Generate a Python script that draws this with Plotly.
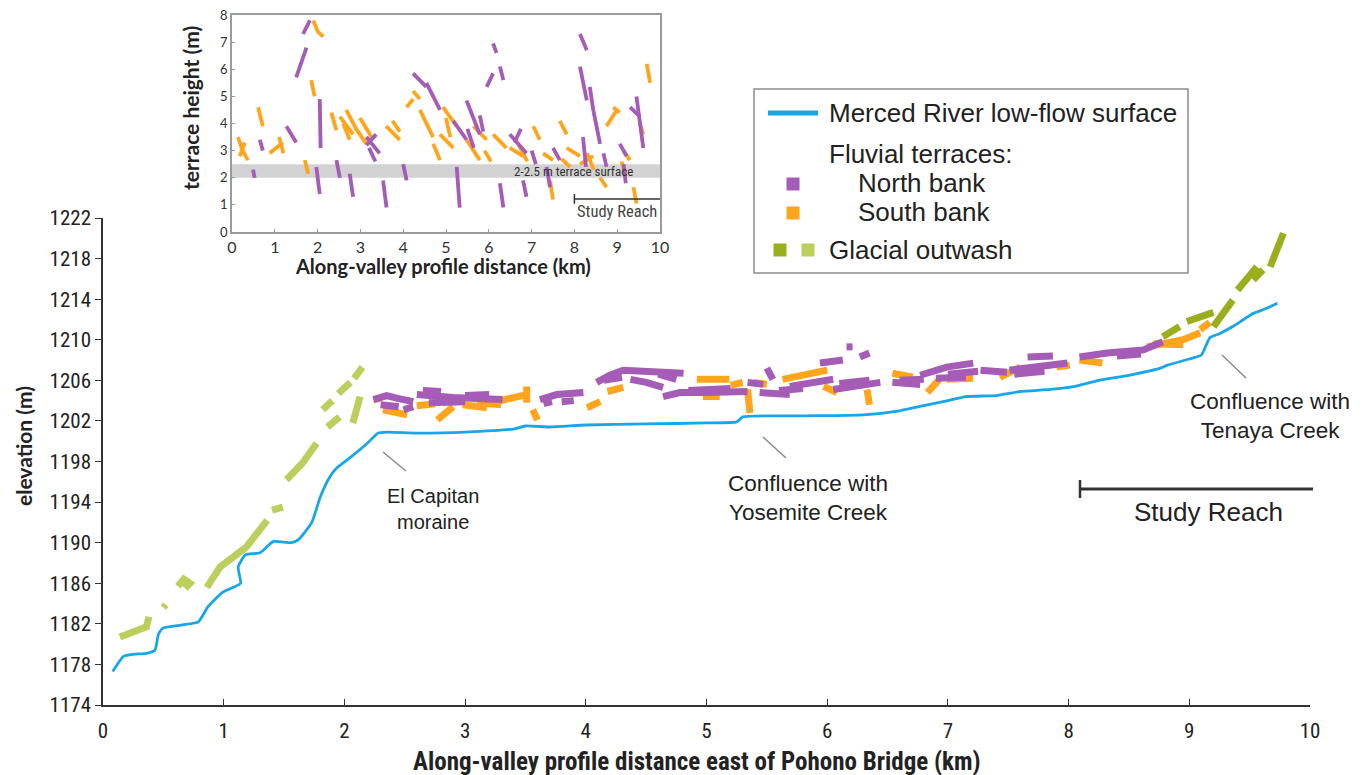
import plotly.graph_objects as go

# ---------------- data ----------------
river_km = [0.08, 0.17, 0.25, 0.36, 0.43, 0.46, 0.50, 0.66, 0.79, 0.87, 0.99, 1.08, 1.14, 1.12, 1.18,
            1.30, 1.41, 1.56, 1.62, 1.73, 1.80, 1.88, 1.94, 2.06, 2.19, 2.28, 2.36, 2.60, 3.00, 3.40,
            3.50, 3.70, 4.00, 4.50, 5.00, 5.25, 5.30, 5.80, 6.30, 6.60, 6.80, 7.00, 7.15, 7.40, 7.60,
            7.85, 8.05, 8.25, 8.50, 8.76, 8.82, 9.00, 9.10, 9.17, 9.25, 9.36, 9.45, 9.53, 9.62, 9.73]
river_elev = [1177.3, 1178.8, 1179.0, 1179.1, 1179.4, 1181.0, 1181.6, 1181.9, 1182.2, 1183.7, 1185.1,
              1185.6, 1186.0, 1187.6, 1188.8, 1189.0, 1190.1, 1190.0, 1190.3, 1192.0, 1194.5, 1196.5,
              1197.4, 1198.5, 1199.8, 1200.8, 1200.9, 1200.8, 1200.9, 1201.2, 1201.5, 1201.4, 1201.6,
              1201.7, 1201.8, 1201.9, 1202.4, 1202.5, 1202.6, 1203.0, 1203.5, 1204.0, 1204.4, 1204.5,
              1204.9, 1205.1, 1205.4, 1206.0, 1206.5, 1207.2, 1207.5, 1208.1, 1208.5, 1210.2, 1210.6,
              1211.3, 1212.0, 1212.6, 1213.0, 1213.6]

north_segments = [
    [(2.24, 1204.1), (2.35, 1204.5), (2.45, 1204.2), (2.57, 1203.9)],
    [(2.30, 1203.6), (2.45, 1203.4)],
    [(2.49, 1203.1), (2.57, 1203.4)],
    [(2.60, 1204.6), (2.75, 1204.4), (2.90, 1204.3), (3.10, 1204.2), (3.31, 1204.1)],
    [(2.65, 1205.0), (2.80, 1204.9)],
    [(2.70, 1203.8), (3.00, 1203.9)],
    [(3.00, 1204.5), (3.20, 1204.6)],
    [(3.62, 1204.1), (3.76, 1204.6), (3.98, 1204.8)],
    [(3.65, 1203.7), (3.72, 1203.9)],
    [(3.80, 1203.9), (3.90, 1204.0)],
    [(4.09, 1205.8), (4.20, 1206.5), (4.31, 1207.0), (4.55, 1206.9), (4.81, 1206.7)],
    [(4.15, 1206.0), (4.30, 1206.3)],
    [(4.37, 1206.1), (4.50, 1205.8), (4.64, 1205.3)],
    [(4.60, 1206.6), (4.75, 1206.1)],
    [(4.64, 1204.4), (4.78, 1204.8), (5.00, 1204.8), (5.34, 1204.9)],
    [(4.85, 1205.0), (5.20, 1205.2)],
    [(5.44, 1204.8), (5.69, 1204.6)],
    [(5.50, 1207.2), (5.55, 1206.1)],
    [(5.34, 1205.8), (5.47, 1205.6)],
    [(5.60, 1205.0), (5.80, 1205.2)],
    [(5.69, 1205.4), (5.90, 1205.8), (6.05, 1206.1)],
    [(6.05, 1205.1), (6.25, 1205.5), (6.44, 1205.8)],
    [(6.10, 1205.7), (6.35, 1206.0)],
    [(5.94, 1207.7), (6.13, 1208.0)],
    [(6.16, 1209.3), (6.21, 1209.3)],
    [(6.27, 1208.3), (6.35, 1208.7)],
    [(6.54, 1205.8), (6.77, 1205.6)],
    [(6.60, 1206.0), (6.80, 1206.1)],
    [(6.77, 1206.5), (6.99, 1207.3), (7.21, 1207.7)],
    [(6.90, 1206.2), (7.15, 1206.3)],
    [(7.00, 1206.6), (7.25, 1206.9)],
    [(7.27, 1207.0), (7.49, 1206.8)],
    [(7.51, 1207.0), (7.75, 1207.4), (7.99, 1207.7)],
    [(7.55, 1206.6), (7.80, 1206.9)],
    [(7.66, 1208.3), (7.87, 1208.4)],
    [(8.09, 1208.3), (8.32, 1208.7), (8.62, 1209.0), (8.78, 1209.8)],
    [(8.40, 1208.4), (8.60, 1208.6)],
]

south_segments = [
    [(2.24, 1204.1), (2.30, 1204.2)],
    [(2.32, 1203.1), (2.42, 1202.8), (2.52, 1202.6)],
    [(2.60, 1203.5), (2.75, 1203.7)],
    [(2.77, 1202.1), (2.85, 1202.9), (2.90, 1203.4)],
    [(2.98, 1203.6), (3.18, 1203.3)],
    [(3.10, 1203.8), (3.30, 1203.6)],
    [(3.26, 1203.9), (3.40, 1204.2), (3.51, 1204.6)],
    [(3.51, 1205.4), (3.51, 1203.8)],
    [(3.56, 1203.1), (3.60, 1202.1)],
    [(4.01, 1203.3), (4.12, 1203.9)],
    [(4.18, 1204.9), (4.31, 1205.3)],
    [(4.92, 1206.1), (5.19, 1206.1)],
    [(4.97, 1204.4), (5.11, 1204.4)],
    [(5.20, 1205.5), (5.30, 1205.8)],
    [(5.34, 1205.1), (5.35, 1204.0), (5.36, 1202.8)],
    [(5.39, 1205.8), (5.50, 1205.6)],
    [(5.63, 1206.1), (5.88, 1206.8), (6.00, 1207.0)],
    [(5.97, 1205.4), (6.08, 1204.8)],
    [(6.33, 1205.1), (6.35, 1203.6)],
    [(6.54, 1206.7), (6.71, 1206.3)],
    [(6.83, 1204.8), (6.93, 1206.1)],
    [(6.99, 1206.1), (7.21, 1206.2)],
    [(7.43, 1206.3), (7.60, 1207.3)],
    [(7.90, 1207.3), (8.01, 1207.5)],
    [(8.09, 1208.0), (8.28, 1207.7)],
    [(8.65, 1209.3), (8.82, 1209.7), (8.95, 1210.0), (9.09, 1210.7)],
    [(8.70, 1209.6), (8.95, 1209.5)],
    [(9.09, 1211.0), (9.17, 1211.7)],
]

outwash_west_segments = [
    [(0.14, 1180.7), (0.25, 1181.2), (0.36, 1181.7), (0.38, 1182.7)],
    [(0.50, 1183.6), (0.52, 1183.9)],
    [(0.62, 1185.7), (0.67, 1186.4), (0.72, 1186.0), (0.68, 1185.5)],
    [(0.86, 1185.6), (0.92, 1186.6), (0.97, 1187.6), (1.08, 1188.6), (1.19, 1189.6), (1.28, 1191.0), (1.36, 1192.2)],
    [(1.40, 1193.2), (1.49, 1193.5)],
    [(1.52, 1196.2), (1.65, 1197.8), (1.77, 1199.8)],
    [(1.86, 1201.4), (1.96, 1202.4)],
    [(2.07, 1201.8), (2.13, 1204.4)],
    [(1.82, 1203.1), (1.90, 1204.0)],
    [(1.95, 1204.7), (2.05, 1205.8)],
    [(2.08, 1206.2), (2.15, 1207.3)],
]

outwash_east_segments = [
    [(8.78, 1210.3), (8.92, 1211.3)],
    [(8.98, 1211.8), (9.20, 1212.7)],
    [(9.20, 1211.3), (9.28, 1212.5), (9.36, 1213.9)],
    [(9.40, 1214.9), (9.56, 1217.2)],
    [(9.53, 1215.9), (9.61, 1216.9)],
    [(9.67, 1217.2), (9.72, 1218.9), (9.78, 1220.5)],
]

# inset: terrace height above river (m) vs distance (km)
inset_south_segments = [
    [(0.14, 3.5), (0.25, 3.0), (0.37, 2.65)], [(0.18, 2.8), (0.30, 3.3)],
    [(0.61, 4.6), (0.72, 3.9)], [(0.88, 2.9), (1.05, 3.1), (1.19, 3.3)], [(1.10, 3.5), (1.20, 2.9)],
    [(1.70, 2.65), (1.78, 2.15)], [(1.85, 5.6), (1.93, 5.0)], [(1.90, 7.8), (2.00, 7.4), (2.13, 7.2)],
    [(2.32, 4.4), (2.44, 3.75)], [(2.52, 4.25), (2.83, 3.6)], [(2.60, 4.0), (2.75, 3.4)],
    [(2.67, 4.5), (2.90, 3.8), (3.14, 3.25)],
    [(2.99, 4.2), (3.30, 3.4)], [(3.60, 3.9), (3.92, 3.4)], [(3.75, 4.1), (3.92, 3.7)],
    [(4.08, 4.6), (4.23, 4.9)], [(4.23, 5.2), (4.39, 4.9)], [(4.39, 4.5), (4.70, 3.5)],
    [(4.70, 3.25), (4.86, 2.65)], [(4.93, 4.6), (5.25, 3.9)], [(4.86, 3.6), (5.17, 3.1)],
    [(5.00, 4.2), (5.10, 3.5)],
    [(5.48, 3.4), (5.79, 2.65)], [(5.64, 3.9), (5.95, 3.4)], [(5.90, 3.0), (6.05, 2.6)],
    [(6.10, 3.6), (6.41, 3.1)],
    [(6.49, 3.1), (6.80, 2.8)], [(6.70, 3.2), (6.90, 2.6)], [(7.04, 3.9), (7.19, 3.4)],
    [(7.27, 2.9), (7.50, 2.65)],
    [(7.43, 1.9), (7.50, 1.2)], [(7.66, 4.1), (7.82, 3.6)], [(7.70, 2.7), (7.90, 2.4)],
    [(7.82, 3.1), (8.13, 2.8)],
    [(8.13, 2.5), (8.44, 2.8)], [(8.30, 2.9), (8.45, 2.3)], [(8.60, 2.0), (8.75, 1.65)],
    [(8.75, 3.9), (8.99, 4.5)],
    [(8.91, 4.6), (9.06, 4.4)], [(9.10, 2.6), (9.20, 2.1)], [(9.14, 3.0), (9.30, 2.65)],
    [(9.38, 1.65), (9.45, 1.05)],
    [(9.53, 4.0), (9.61, 3.6)], [(9.69, 6.2), (9.77, 5.5)],
]

inset_north_segments = [
    [(0.49, 2.3), (0.53, 2.0)], [(0.65, 3.4), (0.72, 3.0)], [(1.27, 3.9), (1.50, 3.3)],
    [(1.50, 5.7), (1.62, 6.3), (1.74, 6.8)], [(1.66, 7.3), (1.82, 7.8)], [(1.97, 2.4), (2.05, 1.4)],
    [(2.05, 4.9), (2.07, 3.1)], [(2.44, 2.65), (2.52, 2.0)], [(2.75, 2.15), (2.83, 1.3)],
    [(3.14, 3.5), (3.45, 2.9)], [(3.14, 3.2), (3.37, 3.6)], [(3.20, 3.1), (3.35, 2.6)],
    [(3.53, 1.9), (3.61, 0.9)],
    [(4.00, 2.5), (4.08, 1.9)], [(4.23, 5.85), (4.54, 5.35)], [(4.54, 5.5), (4.86, 4.5)],
    [(5.17, 4.1), (5.48, 3.4)], [(5.25, 2.4), (5.32, 0.9)], [(5.48, 4.85), (5.79, 3.6)],
    [(5.50, 3.8), (5.65, 3.1)],
    [(5.79, 4.3), (5.87, 3.7)], [(5.95, 5.35), (6.10, 5.85)], [(6.10, 6.95), (6.18, 6.6)],
    [(6.26, 6.1), (6.34, 5.6)], [(6.26, 1.8), (6.34, 0.9)], [(6.49, 3.6), (6.88, 2.9)],
    [(6.60, 3.3), (6.75, 3.8)], [(7.00, 3.0), (7.10, 2.5)],
    [(6.80, 1.9), (6.88, 1.3)], [(7.35, 2.4), (7.43, 1.65)], [(7.50, 3.1), (7.66, 2.65)],
    [(8.13, 7.3), (8.29, 6.7)], [(8.13, 6.1), (8.29, 4.85)], [(8.20, 3.5), (8.27, 2.4)],
    [(8.36, 5.35), (8.44, 4.5)], [(8.44, 4.5), (8.60, 3.25)], [(8.68, 2.9), (8.75, 2.4)],
    [(9.06, 3.25), (9.22, 2.8)], [(9.15, 2.5), (9.20, 1.8)], [(9.30, 4.6), (9.53, 4.25)],
    [(9.45, 5.0), (9.61, 3.1)],
]

band_low, band_high = 2.0, 2.5
study_reach_km = [8.0, 10.0]

main_yticks = list(range(1174, 1223, 4))
main_xticks = list(range(0, 11))
inset_yticks = list(range(0, 9))

# ---------------- styling / geometry ----------------
C_RIVER = "#17a7e8"
C_NORTH = "#a55cb6"
C_SOUTH = "#ffa51c"
C_DARKG = "#9aae1e"
C_LIGHTG = "#bccf5c"
TXT = "#222222"

OFF = 8                         # page margin of the browser body
W, H = 1365 - OFF, 775 - OFF
# plot area in reference-pixel coordinates
RL, RR, RT, RB = 103, 1310, 10, 705
ML, MR, MT, MB = RL - OFF, W - (RR - OFF), RT - OFF, H - (RB - OFF)
PW, PH = RR - RL, RB - RT


def px(x):
    return (x - RL) / PW


def py(y):
    return (RB - y) / PH


def flatten(segs):
    xs, ys = [], []
    for s in segs:
        for a, b in s:
            xs.append(a)
            ys.append(b)
        xs.append(None)
        ys.append(None)
    return xs, ys


fig = go.Figure()

for segs, col in [(outwash_west_segments, C_LIGHTG), (outwash_east_segments, C_DARKG),
                  (south_segments, C_SOUTH), (north_segments, C_NORTH)]:
    xs, ys = flatten(segs)
    fig.add_trace(go.Scatter(x=xs, y=ys, mode="lines", line=dict(color=col, width=7),
                             connectgaps=False, showlegend=False, hoverinfo="skip",
                             xaxis="x", yaxis="y"))

fig.add_trace(go.Scatter(x=river_km, y=river_elev, mode="lines",
                         line=dict(color=C_RIVER, width=2.8, shape="spline", smoothing=0.5),
                         showlegend=False, xaxis="x", yaxis="y"))

for segs, col in [(inset_south_segments, C_SOUTH), (inset_north_segments, C_NORTH)]:
    xs, ys = flatten(segs)
    fig.add_trace(go.Scatter(x=xs, y=ys, mode="lines", line=dict(color=col, width=3.8),
                             connectgaps=False, showlegend=False, hoverinfo="skip",
                             xaxis="x2", yaxis="y2"))

NARROW = "Liberation Sans Narrow, Roboto Condensed, Liberation Sans, Arial"
SANS = "Liberation Sans, Arial"
BOLD = "Lato, Open Sans, Liberation Sans"

fig.update_layout(
    width=W, height=H,
    margin=dict(l=ML, r=MR, t=MT, b=MB, autoexpand=False),
    paper_bgcolor="white", plot_bgcolor="white",
    showlegend=False,
    xaxis=dict(domain=[0, 1], range=[0, 10], tickvals=main_xticks, ticks="inside", ticklen=6,
               tickwidth=1.3, tickcolor="#333", showline=True, linecolor="#333", linewidth=1.5,
               showgrid=False, zeroline=False, anchor="y", ticklabelstandoff=6, automargin=False,
               tickfont=dict(family=NARROW, size=21, color=TXT)),
    yaxis=dict(domain=[0, py(218)], range=[1174, 1222], tickvals=main_yticks, ticks="outside",
               ticklen=6, tickwidth=1.3, tickcolor="#333", showline=True, linecolor="#333",
               linewidth=1.5, showgrid=False, zeroline=False, anchor="x", automargin=False,
               tickfont=dict(family=NARROW, size=21, color=TXT)),
    xaxis2=dict(domain=[px(232), px(660)], range=[0, 10], tickvals=main_xticks, ticks="inside",
                ticklen=3, tickcolor="#999", showline=True, linecolor="#9a9a9a", linewidth=1.5,
                mirror=True, showgrid=False, zeroline=False, anchor="y2", automargin=False,
                ticklabeloverflow="allow",
                tickfont=dict(family=BOLD, size=16, color="#333")),
    yaxis2=dict(domain=[py(232), py(15)], range=[0, 8], tickvals=inset_yticks, ticks="inside",
                ticklen=3, tickcolor="#999", showline=True, linecolor="#9a9a9a", linewidth=1.5,
                mirror=True, showgrid=False, zeroline=False, anchor="x2", automargin=False,
                ticklabeloverflow="allow",
                tickfont=dict(family=BOLD, size=13, color="#333")),
)

shapes = []
shapes.append(dict(type="rect", xref="x2", yref="y2", x0=0, x1=10, y0=band_low, y1=band_high,
                   fillcolor="#d2d2d2", line=dict(width=0), layer="below"))
shapes.append(dict(type="line", xref="x2", yref="y2", x0=study_reach_km[0], x1=study_reach_km[1],
                   y0=1.22, y1=1.22, line=dict(color="#333", width=1.5)))
shapes.append(dict(type="line", xref="x2", yref="y2", x0=study_reach_km[0], x1=study_reach_km[0],
                   y0=1.04, y1=1.40, line=dict(color="#333", width=1.5)))

shapes.append(dict(type="line", xref="paper", yref="paper", x0=px(1080), x1=px(1313),
                   y0=py(489), y1=py(489), line=dict(color="#333", width=3)))
shapes.append(dict(type="line", xref="paper", yref="paper", x0=px(1080), x1=px(1080),
                   y0=py(480), y1=py(498), line=dict(color="#333", width=2.5)))

for (x0, y0, x1, y1) in [(383, 452, 406, 471), (763, 437, 786, 458), (1222, 355, 1246, 378)]:
    shapes.append(dict(type="line", xref="paper", yref="paper", x0=px(x0), y0=py(y0),
                       x1=px(x1), y1=py(y1), line=dict(color="#8a8a8a", width=1.5)))

shapes.append(dict(type="rect", xref="paper", yref="paper", x0=px(754), x1=px(1188),
                   y0=py(273), y1=py(89), line=dict(color="#8c8c8c", width=1.5), fillcolor="white"))
shapes.append(dict(type="line", xref="paper", yref="paper", x0=px(768), x1=px(818),
                   y0=py(113), y1=py(113), line=dict(color=C_RIVER, width=5)))


def square(cx, cy, col, s=6.5):
    return dict(type="rect", xref="paper", yref="paper", x0=px(cx - s), x1=px(cx + s),
                y0=py(cy + s), y1=py(cy - s), fillcolor=col, line=dict(width=0))


shapes += [square(793, 184, C_NORTH), square(793, 213, C_SOUTH),
           square(780, 250, C_DARKG), square(808, 250, C_LIGHTG)]

annotations = []


def text(x, y, s, size=20, family=SANS, anchor="center", color=TXT, angle=0):
    annotations.append(dict(x=px(x), y=py(y), xref="paper", yref="paper", text=s, showarrow=False,
                            xanchor=anchor, yanchor="middle", textangle=angle,
                            font=dict(family=family, size=size, color=color)))


text(827, 113, "Merced River low-flow surface", 26, anchor="left")
text(827, 154, "Fluvial terraces:", 26, anchor="left")
text(856, 183, "North bank", 26, anchor="left")
text(856, 212, "South bank", 26, anchor="left")
text(827, 250, "Glacial outwash", 26, anchor="left")

text(433, 509, "El Capitan<br>moraine", 20)
text(808, 498, "Confluence with<br>Yosemite Creek", 22.5)
text(1270, 416, "Confluence with<br>Tenaya Creek", 22.5)
text(1208, 512, "Study Reach", 26)

annotations.append(dict(x=7.99, y=2.22, xref="x2", yref="y2", text="2-2.5 m terrace surface",
                        showarrow=False, font=dict(family=NARROW, size=13, color="#333")))
annotations.append(dict(x=9.0, y=0.74, xref="x2", yref="y2", text="Study Reach",
                        showarrow=False, font=dict(family=NARROW, size=16.5, color="#444")))

text(697, 761, "<b>Along-valley profile distance east of Pohono Bridge (km)</b>", 25, family=NARROW)
text(23, 446, "<b>elevation (m)</b>", 21, family=BOLD, angle=-90)
text(443, 266, "<b>Along-valley profile distance (km)</b>", 20, family=BOLD)
text(191, 108, "<b>terrace height (m)</b>", 21, family=BOLD, angle=-90)

fig.update_layout(shapes=shapes, annotations=annotations)

fig.write_html("out.html")
